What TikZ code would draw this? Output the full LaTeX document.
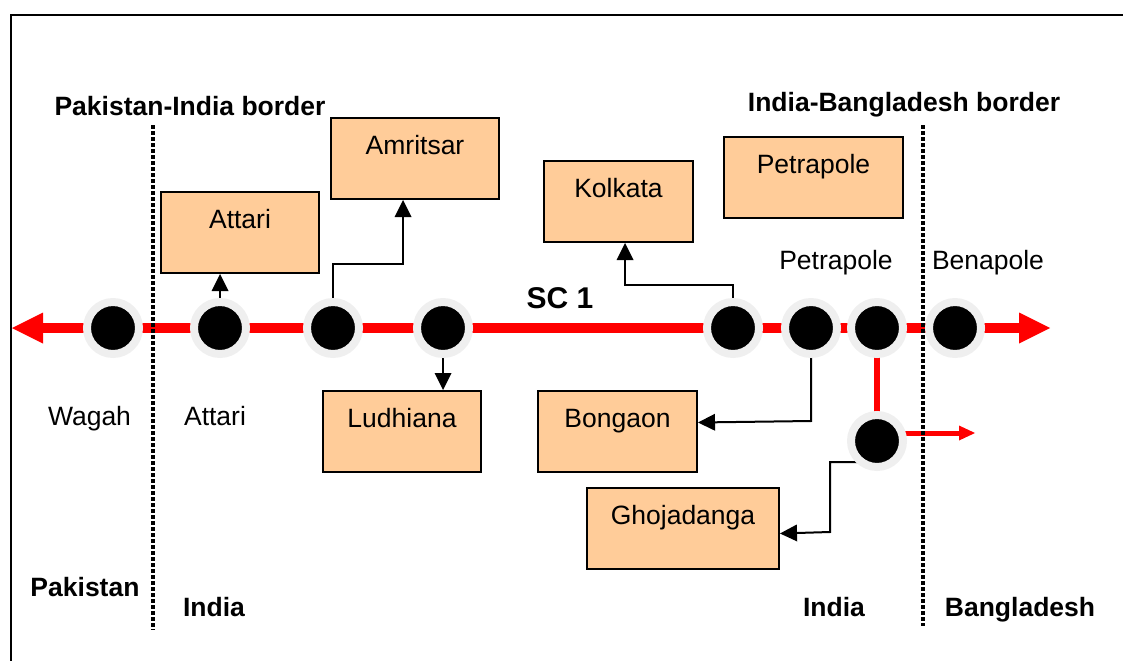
\documentclass[tikz,border=0pt]{standalone}
\usepackage{fontspec}
\setmainfont{Liberation Sans}
\usetikzlibrary{arrows.meta}
\definecolor{boxfill}{HTML}{FFCC99}
\definecolor{halo}{HTML}{EFEFEF}
\definecolor{rail}{HTML}{FF0000}
\pgfdeclarelayer{bg}
\pgfsetlayers{bg,main}
\begin{document}
\begin{tikzpicture}[x=1pt,y=-1pt,
  stn/.style={circle,fill=black,draw=halo,line width=8pt,minimum size=52pt,inner sep=0pt,outer sep=0pt},
  city/.style={draw=black,line width=2pt,fill=boxfill,anchor=north,inner sep=0pt,text height=36pt,text depth=45pt,font=\fontsize{26.5}{31}\selectfont},
  lbl/.style={anchor=base,inner sep=0pt,font=\fontsize{26.5}{31}\selectfont},
  blbl/.style={anchor=base,inner sep=0pt,font=\fontsize{26.5}{31}\selectfont\bfseries},
  conn/.style={draw=black,line width=2pt,-{Triangle[width=17pt,length=17pt,line width=0pt]}},
  mainrail/.style={draw=rail,line width=10pt,{Triangle[width=31pt,length=31pt,line width=0pt]}-{Triangle[width=31pt,length=31pt,line width=0pt]}},
  branchrail/.style={draw=rail,line width=6pt},
  spurrail/.style={draw=rail,line width=5pt,-{Triangle[width=15pt,length=16pt,line width=0pt]}},
  border/.style={draw=black,line width=3.5pt,dash pattern=on 3.5pt off 2.5pt}
]
\useasboundingbox (0,0) rectangle (1123,661);
% frame
\draw[line width=2pt] (1123,15) -- (11,15) -- (11,661);

% stations
\node[stn] (c1) at (113,328) {};
\node[stn] (c2) at (220,328) {};
\node[stn] (c3) at (333,328) {};
\node[stn] (c4) at (443,328) {};
\node[stn] (c5) at (733,328) {};
\node[stn] (c6) at (811,328) {};
\node[stn] (c7) at (877,328) {};
\node[stn] (c8) at (955,328) {};
\node[stn] (c9) at (877,441) {};

\coordinate (lt) at (12,328);
\coordinate (rt) at (1050,328);
\coordinate (spurend) at (975,433);

% city boxes
\node[city,minimum width=158pt] (attari) at (240,191) {Attari};
\node[city,minimum width=168pt] (amritsar) at (415,117) {Amritsar};
\node[city,minimum width=149pt] (kolkata) at (618.5,160) {Kolkata};
\node[city,minimum width=179pt] (petrapole) at (813.5,136) {Petrapole};
\node[city,minimum width=158pt] (ludhiana) at (402,390) {Ludhiana};
\node[city,minimum width=159pt] (bongaon) at (617.5,390) {Bongaon};
\node[city,minimum width=192pt] (ghoja) at (683,487) {Ghojadanga};

\begin{pgfonlayer}{bg}
  \draw[mainrail] (lt) -- (rt);
  \draw[branchrail] (c7.center) -- (c9.center);
  \draw[spurrail] ([yshift=8pt]c9.center) -- (spurend);
  \draw[conn] (c2.center) -- (c2.center |- attari.south);
  \draw[conn] (c3.center) -- (333,264) -- (403,264) -- ([xshift=-12pt]amritsar.south);
  \draw[conn] (c4.center) -- (c4.center |- ludhiana.north);
  \draw[conn] (c5.center) -- (733,285) -- (625,285) -- ([xshift=6.5pt]kolkata.south);
  \draw[conn] (c6.center) -- (811,421) -- ([yshift=9pt]bongaon.east);
  \draw[conn] (c9.center) -- (877,462) -- (830,462) -- (830,532) -- ([yshift=-5pt]ghoja.east);
\end{pgfonlayer}

% borders
\coordinate (b1t) at (153,125);
\coordinate (b1b) at (153,630);
\coordinate (b2t) at (923,125);
\coordinate (b2b) at (923,626);
\draw[border] (b1t) -- (b1b);
\draw[border] (b2t) -- (b2b);

% labels
\node[lbl] (wagah) at (89.5,425) {Wagah};
\node[lbl] (attarilbl) at (215,425) {Attari};
\node[lbl] (petralbl) at (836,269) {Petrapole};
\node[lbl] (benalbl) at (988,269) {Benapole};
\node[anchor=base,inner sep=0pt,font=\fontsize{30}{36}\selectfont\bfseries] (sc1) at (560,308) {SC 1};
\node[blbl] (pib) at (190,115) {Pakistan-India border};
\node[blbl] (ibb) at (904,111) {India-Bangladesh border};
\node[blbl] (pak) at (85,596) {Pakistan};
\node[blbl] (ind1) at (214,616) {India};
\node[blbl] (ind2) at (834,616) {India};
\node[blbl] (bang) at (1020,616) {Bangladesh};
\end{tikzpicture}
\end{document}
